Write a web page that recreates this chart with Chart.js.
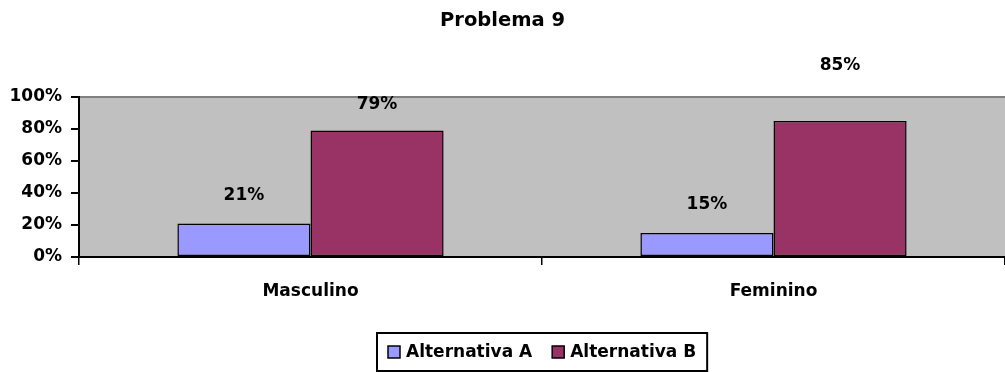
<!DOCTYPE html>
<html>
<head>
<meta charset="utf-8">
<script src="https://cdn.jsdelivr.net/npm/chart.js@4"></script>
<style>
  html, body { margin: 0; padding: 0; background: #ffffff; }
  #wrap { width: 1005px; height: 372px; position: relative; }
</style>
</head>
<body>
<div id="wrap"><canvas id="chart"></canvas></div>
<script>
// Chart data
const categories = ['Masculino', 'Feminino'];
const seriesNames = ['Alternativa A', 'Alternativa B'];
const alternativaA = [21, 15];
const alternativaB = [79, 85];
const yTicks = [0, 20, 40, 60, 80, 100];

const FONT = '"DejaVu Sans", sans-serif';
const colors = ['#9999FF', '#993366'];

// How far above each bar top its value label sits (px), per dataset / category
const labelLift = [[28, 28], [26, 55]];

const plotBackground = {
  id: 'plotBackground',
  beforeDraw(chart) {
    const { ctx, chartArea: a } = chart;
    ctx.save();
    ctx.fillStyle = '#C0C0C0';
    ctx.fillRect(a.left, a.top, a.right - a.left, a.bottom - a.top);
    ctx.strokeStyle = '#808080';
    ctx.lineWidth = 2;
    ctx.beginPath();
    ctx.moveTo(a.left, a.top);
    ctx.lineTo(a.right, a.top);
    ctx.stroke();
    ctx.restore();
  }
};

const valueLabels = {
  id: 'valueLabels',
  afterDatasetsDraw(chart) {
    const { ctx } = chart;
    ctx.save();
    ctx.font = 'bold 17px ' + FONT;
    ctx.fillStyle = '#000';
    ctx.textAlign = 'center';
    ctx.textBaseline = 'middle';
    chart.data.datasets.forEach((ds, di) => {
      chart.getDatasetMeta(di).data.forEach((bar, i) => {
        ctx.fillText(ds.data[i] + '%', bar.x, bar.y - labelLift[di][i]);
      });
    });
    ctx.restore();
  }
};

const boxedLegend = {
  id: 'boxedLegend',
  afterDraw(chart) {
    const { ctx, chartArea: a } = chart;
    ctx.save();
    ctx.font = 'bold 17px ' + FONT;
    const sw = 12, gap = 6, itemGap = 20, padX = 11;
    const widths = seriesNames.map(n => sw + gap + ctx.measureText(n).width);
    const total = widths.reduce((s, w) => s + w, 0) + itemGap * (widths.length - 1);
    const boxW = total + padX * 2, boxH = 38;
    const cx = (a.left + a.right) / 2, top = 333;
    const left = Math.round(cx - boxW / 2);
    ctx.strokeStyle = '#000';
    ctx.lineWidth = 2;
    ctx.strokeRect(left, top, boxW, boxH);
    let x = left + padX;
    const midY = top + 19;
    seriesNames.forEach((n, i) => {
      ctx.fillStyle = colors[i];
      ctx.fillRect(x, midY - sw / 2, sw, sw);
      ctx.lineWidth = 1.5;
      ctx.strokeRect(x, midY - sw / 2, sw, sw);
      ctx.fillStyle = '#000';
      ctx.textAlign = 'left';
      ctx.textBaseline = 'middle';
      ctx.fillText(n, x + sw + gap, midY + 1);
      x += widths[i] + itemGap;
    });
    ctx.restore();
  }
};

new Chart(document.getElementById('chart'), {
  type: 'bar',
  data: {
    labels: categories,
    datasets: [
      { label: seriesNames[0], data: alternativaA, backgroundColor: colors[0] },
      { label: seriesNames[1], data: alternativaB, backgroundColor: colors[1] }
    ]
  },
  options: {
    responsive: true,
    maintainAspectRatio: false,
    animation: false,
    layout: { padding: 0 },
    datasets: {
      bar: {
        borderColor: '#000',
        borderWidth: 1.5,
        borderSkipped: false,
        categoryPercentage: 0.575,
        barPercentage: 1
      }
    },
    plugins: {
      legend: { display: false },
      tooltip: { enabled: false },
      title: {
        display: true,
        text: 'Problema 9',
        color: '#000',
        font: { family: FONT, size: 19.5, weight: 'bold', lineHeight: 1.2 },
        padding: { top: 8.8, bottom: 64.8 }
      }
    },
    scales: {
      x: {
        grid: { offset: true, drawOnChartArea: false, color: '#000', lineWidth: 1.5, tickLength: 8 },
        border: { color: '#000', width: 2 },
        ticks: { color: '#000', font: { family: FONT, size: 17, weight: 'bold' }, padding: 16 },
        afterFit(scale) { scale.height = 115; }
      },
      y: {
        min: 0,
        max: 100,
        afterBuildTicks(scale) { scale.ticks = yTicks.map(v => ({ value: v })); },
        grid: { drawOnChartArea: false, color: '#000', lineWidth: 2, tickLength: 8 },
        border: { color: '#000', width: 2 },
        ticks: {
          color: '#000',
          font: { family: FONT, size: 17, weight: 'bold' },
          padding: 9,
          callback: v => v + '%'
        },
        afterFit(scale) { scale.width = 79; }
      }
    }
  },
  plugins: [plotBackground, valueLabels, boxedLegend]
});
</script>
</body>
</html>
